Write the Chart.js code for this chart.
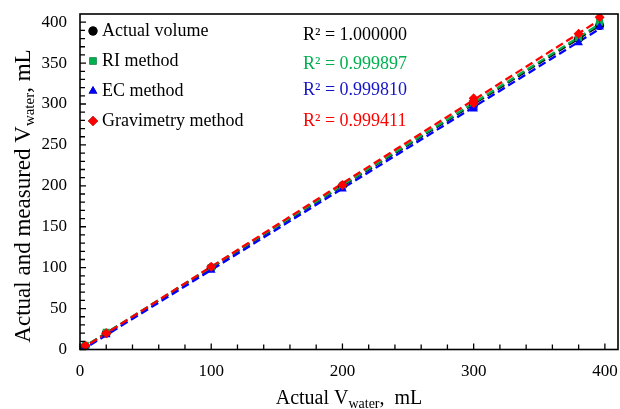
<!DOCTYPE html>
<html>
<head>
<meta charset="utf-8">
<script src="https://cdn.jsdelivr.net/npm/chart.js@4.4.1/dist/chart.umd.min.js"></script>
<style>
  html, body { margin: 0; padding: 0; background: #fff; }
  #wrap { width: 620px; height: 409px; position: relative; }
</style>
</head>
<body>
<div id="wrap"><canvas id="chart" width="620" height="409"></canvas></div>
<script>
// Données (trois répétitions à 300 mL)
const actualX = [4, 20, 100, 200, 300, 300, 300, 380, 396];
const actualVolume = [4, 20, 100, 200, 300, 300, 300, 380, 396];
const riMethod = [5, 21, 100, 199, 299, 301, 303, 381, 400];
const ecMethod = [2, 18, 97, 196, 294, 296, 298, 375, 394];
const gravMethod = [5, 20, 101, 201, 301, 304, 307, 386, 406];

const seriesNames = ['Actual volume', 'RI method', 'EC method', 'Gravimetry method'];
const r2Labels = ['R² = 1.000000', 'R² = 0.999897', 'R² = 0.999810', 'R² = 0.999411'];
const xTickValues = [0, 100, 200, 300, 400];
const yTickValues = [0, 50, 100, 150, 200, 250, 300, 350, 400];

const colors = ['#000000', '#00b050', '#0000ff', '#ff0000'];
const textColors = ['#000000', '#00b050', '#1414c8', '#ff0000'];
const pointStyles = ['circle', 'rect', 'triangle', 'rectRot'];
const FONT = '"Liberation Serif", "Times New Roman", serif';

function toPoints(ys) {
    return actualX.map((x, i) => ({ x: x, y: ys[i] }));
}

// droite des moindres carrés
function fitLine(ys) {
    const n = actualX.length;
    let sx = 0, sy = 0, sxx = 0, sxy = 0;
    for (let i = 0; i < n; i++) {
        sx += actualX[i]; sy += ys[i];
        sxx += actualX[i] * actualX[i]; sxy += actualX[i] * ys[i];
    }
    const a = (n * sxy - sx * sy) / (n * sxx - sx * sx);
    const b = (sy - a * sx) / n;
    const x0 = 0, x1 = actualX[n - 1];
    return [{ x: x0, y: a * x0 + b }, { x: x1, y: a * x1 + b }];
}

const allSeries = [actualVolume, riMethod, ecMethod, gravMethod];
const datasets = [];

// lignes de tendance (dessous)
allSeries.forEach((ys, i) => {
    datasets.push({
        type: 'line',
        data: fitLine(ys),
        borderColor: colors[i],
        borderWidth: 2.3,
        borderDash: [8, 4],
        pointRadius: 0,
        fill: false,
        order: 10 - i
    });
});

// points
allSeries.forEach((ys, i) => {
    datasets.push({
        type: 'scatter',
        data: toPoints(ys),
        backgroundColor: colors[i],
        borderColor: colors[i],
        pointStyle: pointStyles[i],
        pointRadius: i === 0 ? 4.5 : 5,
        borderWidth: 0,
        order: 4 - i
    });
});

function noPad(s) {
    s.paddingLeft = 0; s.paddingRight = 0;
    s.paddingTop = 0; s.paddingBottom = 0;
}

const decorPlugin = {
    id: 'decor',
    afterDraw(chart) {
        const ctx = chart.ctx;
        const a = chart.chartArea;
        const xs = chart.scales.x, ys = chart.scales.y;
        ctx.save();

        // petites graduations vers l'intérieur
        ctx.strokeStyle = '#000';
        ctx.lineWidth = 1.3;
        ctx.beginPath();
        for (let v = 0; v <= 400; v += 20) {
            const px = xs.getPixelForValue(v);
            const len = v % 100 === 0 ? 6 : 5;
            ctx.moveTo(px, a.bottom); ctx.lineTo(px, a.bottom - len);
        }
        for (let v = 0; v <= 400; v += 10) {
            const py = ys.getPixelForValue(v);
            const len = v % 50 === 0 ? 6 : 5;
            ctx.moveTo(a.left, py); ctx.lineTo(a.left + len, py);
        }
        ctx.stroke();

        // cadre
        ctx.lineWidth = 1.6;
        ctx.strokeRect(a.left, a.top, a.right - a.left, a.bottom - a.top);

        // légende
        ctx.font = '18px ' + FONT;
        ctx.textBaseline = 'middle';
        const legY = [31, 61, 91, 121];
        seriesNames.forEach((name, i) => {
            Chart.helpers.drawPoint(ctx, {
                pointStyle: pointStyles[i], radius: i === 0 ? 4.5 : 5, rotation: 0, borderWidth: 0
            }, 93, legY[i]);
            ctx.fillStyle = colors[i];
            ctx.fill();
            ctx.fillStyle = '#000';
            ctx.textAlign = 'left';
            ctx.fillText(name, 102, legY[i]);
        });

        // R²
        const r2Y = [35, 64, 90, 121];
        r2Labels.forEach((t, i) => {
            ctx.fillStyle = textColors[i];
            ctx.fillText(t, 303, r2Y[i]);
        });

        // titre axe x avec indice
        ctx.fillStyle = '#000';
        const p1 = 'Actual V', p3 = ',  mL';
        ctx.font = '20px ' + FONT;
        const w1 = ctx.measureText(p1).width, w3 = ctx.measureText(p3).width;
        ctx.font = '14px ' + FONT;
        const w2 = ctx.measureText('water').width;
        let x = 349 - (w1 + w2 + w3) / 2;
        const by = 399;
        ctx.textAlign = 'left';
        ctx.font = '20px ' + FONT;
        ctx.fillText(p1, x, by);
        ctx.font = '14px ' + FONT;
        ctx.fillText('water', x + w1, by + 5);
        ctx.font = '20px ' + FONT;
        ctx.fillText(p3, x + w1 + w2, by);

        // titre axe y avec indice
        ctx.translate(24, 196);
        ctx.rotate(-Math.PI / 2);
        const q1 = 'Actual and measured V', q3 = ', mL';
        ctx.font = '23px ' + FONT;
        const v1 = ctx.measureText(q1).width, v3 = ctx.measureText(q3).width;
        ctx.font = '15px ' + FONT;
        const v2 = ctx.measureText('water').width;
        let y0 = -(v1 + v2 + v3) / 2;
        ctx.font = '23px ' + FONT;
        ctx.fillText(q1, y0, 0);
        ctx.font = '15px ' + FONT;
        ctx.fillText('water', y0 + v1, 6);
        ctx.font = '23px ' + FONT;
        ctx.fillText(q3, y0 + v1 + v2, 0);

        ctx.restore();
    }
};

new Chart(document.getElementById('chart'), {
    data: { datasets: datasets },
    options: {
        responsive: false,
        animation: false,
        layout: { autoPadding: false, padding: { left: 0, top: 14, right: 2, bottom: 0 } },
        plugins: { legend: { display: false }, tooltip: { enabled: false } },
        scales: {
            x: {
                type: 'linear',
                min: 0,
                max: 410,
                afterFit: s => { s.height = 59.5; noPad(s); },
                afterBuildTicks: s => { s.ticks = xTickValues.map(v => ({ value: v })); },
                grid: { display: false, drawTicks: false },
                border: { display: false },
                ticks: { color: '#000', padding: 12, font: { family: FONT, size: 17 } }
            },
            y: {
                type: 'linear',
                min: 0,
                max: 410,
                afterFit: s => { s.width = 80; noPad(s); },
                afterBuildTicks: s => { s.ticks = yTickValues.map(v => ({ value: v })); },
                grid: { display: false, drawTicks: false },
                border: { display: false },
                ticks: { color: '#000', padding: 13, font: { family: FONT, size: 17 } }
            }
        }
    },
    plugins: [decorPlugin]
});
</script>
</body>
</html>
